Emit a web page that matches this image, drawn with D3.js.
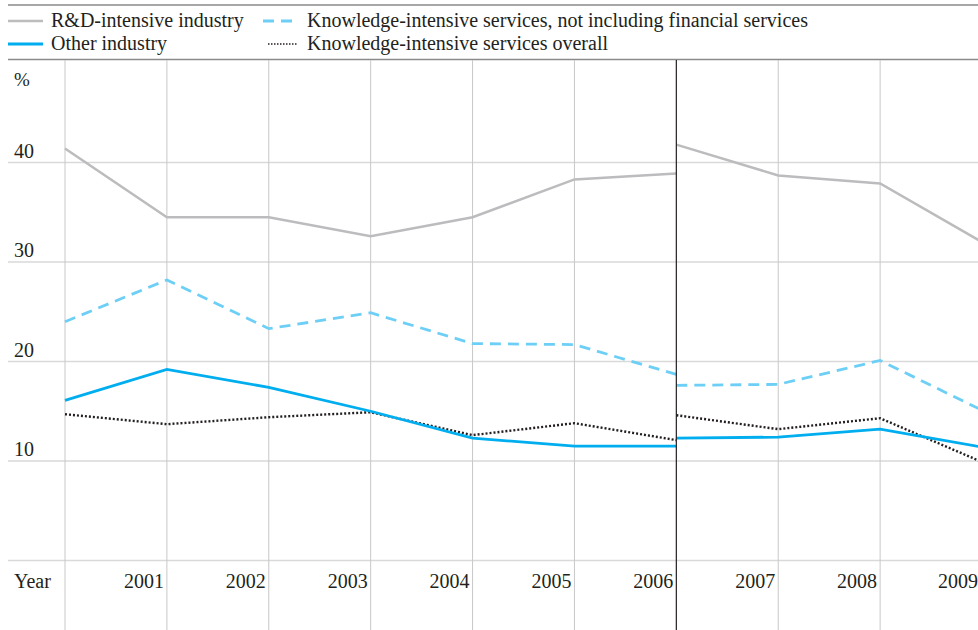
<!DOCTYPE html>
<html><head><meta charset="utf-8">
<script src="https://cdn.jsdelivr.net/npm/d3@7"></script>
<style>body{margin:0;background:#fff}svg{display:block}</style>
</head><body>
<script>
const years = [2000,2001,2002,2003,2004,2005,2006,2007,2008,2009];
const tickYears = [2001,2002,2003,2004,2005,2006,2007,2008,2009];
const yTicks = [10,20,30,40];
const seriesNames = ["R&D-intensive industry","Other industry","Knowledge-intensive services, not including financial services","Knowledge-intensive services overall"];
// Two segments per series: 2000-2006 (old basis) and 2006-2009 (new basis)
const segYears1 = [2000,2001,2002,2003,2004,2005,2006];
const segYears2 = [2006,2007,2008,2009];
const rdIntensive1 = [41.4,34.5,34.5,32.6,34.5,38.3,38.9];
const rdIntensive2 = [41.8,38.7,37.9,32.0];
const otherIndustry1 = [16.1,19.2,17.4,15.0,12.3,11.5,11.5];
const otherIndustry2 = [12.3,12.4,13.2,11.4];
const kisNonFin1 = [24.0,28.2,23.3,24.9,21.8,21.7,18.7];
const kisNonFin2 = [17.6,17.7,20.1,15.1];
const kisOverall1 = [14.7,13.7,14.4,14.9,12.6,13.8,12.1];
const kisOverall2 = [14.6,13.2,14.3,9.9];
const breakYear = 2006;

const W = 978, H = 630;
const FONT = "'Liberation Serif', Tinos, 'Times New Roman', 'DejaVu Serif', serif";
const svg = d3.select("body").append("svg").attr("width", W).attr("height", H)
  .attr("font-family", FONT).style("font-family", FONT);
const x = d3.scaleLinear().domain([2000, 2009]).range([65, 982]);
const y = d3.scaleLinear().domain([0, 40]).range([560.5, 162.5]);

// frame rules
svg.append("line").attr("x1",8).attr("x2",W).attr("y1",5).attr("y2",5).attr("stroke","#8a8a8a").attr("stroke-width",1.5);
svg.append("line").attr("x1",8).attr("x2",W).attr("y1",59.5).attr("y2",59.5).attr("stroke","#8a8a8a").attr("stroke-width",1.5);

// horizontal gridlines
svg.append("g").selectAll("line").data([0].concat(yTicks)).join("line")
  .attr("x1",8).attr("x2",W).attr("y1",d=>y(d)).attr("y2",d=>y(d))
  .attr("stroke","#d9d9d9").attr("stroke-width",1.5);

// vertical gridlines
svg.append("g").selectAll("line").data(years.filter(v=>v!==breakYear && v!==2009)).join("line")
  .attr("x1",d=>x(d)).attr("x2",d=>x(d)).attr("y1",60).attr("y2",H)
  .attr("stroke","#c8c8c8").attr("stroke-width",1);

const txt = (sel)=>sel.attr("fill","#231f20").style("font-family", FONT);
// y labels
txt(svg.append("text")).attr("x",14).attr("y",86).attr("font-size",19).text("%");
txt(svg.append("g").selectAll("text").data(yTicks).join("text"))
  .attr("x",14).attr("y",d=>y(d)-5).attr("font-size",20).text(d=>d);
// x labels
txt(svg.append("text")).attr("x",14).attr("y",588).attr("font-size",20).text("Year");
txt(svg.append("g").selectAll("text").data(tickYears).join("text"))
  .attr("x",d=>Math.min(x(d)-3, W)).attr("y",588).attr("font-size",20).attr("text-anchor","end").text(d=>d);

const styles = [
  {c:"#bcbcbf", w:2.5, dash:null},
  {c:"#00aeef", w:2.8, dash:null},
  {c:"#6dcff6", w:2.8, dash:"11,7"},
  {c:"#231f20", w:2.4, dash:"2,2"}
];
const segs = [
  [rdIntensive1, rdIntensive2],
  [otherIndustry1, otherIndustry2],
  [kisNonFin1, kisNonFin2],
  [kisOverall1, kisOverall2]
];
const line = d3.line().x(d=>x(d[0])).y(d=>y(d[1]));
[0,2,3,1].forEach(i=>{
  const s = styles[i];
  [[segYears1, segs[i][0]],[segYears2, segs[i][1]]].forEach(([yrs, vals])=>{
    const pts = yrs.map((yr,j)=>[yr, vals[j]]);
    const p = svg.append("path").datum(pts).attr("d", line)
      .attr("fill","none").attr("stroke",s.c).attr("stroke-width",s.w)
      .attr("stroke-linejoin","miter");
    if (s.dash) p.attr("stroke-dasharray", s.dash);
  });
});
// break line
svg.append("line").attr("x1",x(breakYear)).attr("x2",x(breakYear)).attr("y1",60).attr("y2",H)
  .attr("stroke","#231f20").attr("stroke-width",1.2);

// legend
const legend = [
  {i:0, lx:8, lx2:43, tx:51, ty:21},
  {i:1, lx:8, lx2:43, tx:51, ty:44},
  {i:2, lx:263, lx2:298, tx:307, ty:21},
  {i:3, lx:268, lx2:298, tx:307, ty:44}
];
legend.forEach(l=>{
  const s = styles[l.i];
  const ln = svg.append("line").attr("x1",l.lx).attr("x2",l.lx2).attr("y1",l.ty).attr("y2",l.ty)
    .attr("stroke",s.c).attr("stroke-width",s.w);
  if (s.dash) ln.attr("stroke-dasharray", l.i===3 ? "1.5,1.5" : "11,7");
  if (l.i===3) ln.attr("stroke-width",1.5);
  txt(svg.append("text")).attr("x",l.tx).attr("y",l.ty+6).attr("font-size",20).text(seriesNames[l.i]);
});
</script>
</body></html>
